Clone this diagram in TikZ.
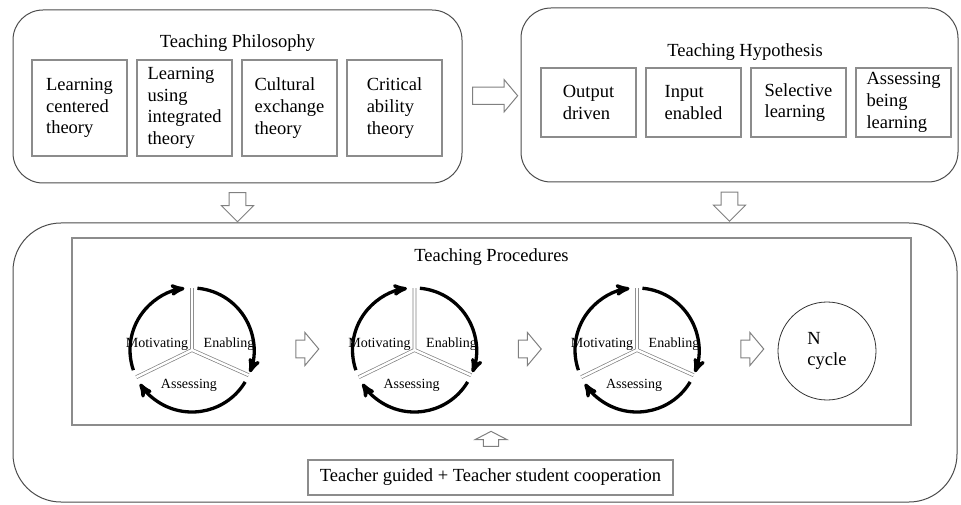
\documentclass[tikz,border=0pt]{standalone}
\usepackage{fontspec}
\setmainfont{Liberation Serif}
\usepackage{tikz}
\usetikzlibrary{calc}
\usetikzlibrary{shapes, arrows, positioning}

\begin{document}
\begin{tikzpicture}[x=1pt,y=1pt,>=stealth',node distance=105pt,
    font=\fontsize{18.5}{21.7}\selectfont,
    bigbox/.style={draw=black!70,line width=1pt,rounded corners=30pt},
    itembox/.style={draw=black!45,line width=1.2pt,minimum width=95pt,align=left,inner sep=2pt},
    blockarrow/.style={single arrow,draw=black!50,line width=1pt,inner xsep=0pt,inner ysep=8pt,
      minimum width=32pt,single arrow tip angle=100},
    spoke/.style={draw=black!50,double=white,double distance=2.4pt,line width=0.7pt},
    cyclearc/.style={->,line width=3.3pt,black},
    cyclelabel/.style={font=\fontsize{14}{16}\selectfont,inner sep=0pt}]
  \useasboundingbox (0,0) rectangle (961,504);

  % teaching philosophy
  \node[bigbox,minimum width=449pt,minimum height=173pt] (phil) at (237.5,407.5) {};
  \node (philtitle) at (237.5,461) {Teaching Philosophy};
  \node[itembox,minimum height=96pt] (p1)               at (79.5,396) {Learning\\centered\\theory};
  \node[itembox,minimum height=96pt] (p2) [right of=p1] {Learning\\using\\integrated\\theory};
  \node[itembox,minimum height=96pt] (p3) [right of=p2] {Cultural\\exchange\\theory};
  \node[itembox,minimum height=96pt] (p4) [right of=p3] {Critical\\ability\\theory};

  % teaching hypothesis
  \node[bigbox,minimum width=437pt,minimum height=174pt] (hyp) at (739.5,409) {};
  \node (hyptitle) at (745,452) {Teaching Hypothesis};
  \node[itembox,minimum height=69pt] (h1)               at (588.5,401.5) {Output\\driven};
  \node[itembox,minimum height=69pt] (h2) [right of=h1] {Input\\enabled};
  \node[itembox,minimum height=69pt] (h3) [right of=h2] {Selective\\learning};
  \node[itembox,minimum height=69pt] (h4) [right of=h3] {Assessing\\being\\learning};

  % teaching procedures
  \node[bigbox,rounded corners=48pt,minimum width=944pt,minimum height=279pt] (proc) at (485,141.5) {};
  \node[draw=black!45,line width=1.2pt,minimum width=839pt,minimum height=187pt] (inner) at (491.5,172.5) {};
  \node (proctitle) at (491.5,247) {Teaching Procedures};
  \node[itembox,minimum width=365pt,minimum height=35pt] (coop) at (490.5,26.5)
    {Teacher guided + Teacher student cooperation};
  \node[draw=black!80,line width=0.8pt,circle,minimum size=98pt,align=left,inner sep=0pt] (ncyc) at (827,153) {N\\cycle};

  % the three cycles
  \foreach \i/\cx in {1/192,2/414.5,3/637}{
    \coordinate (w\i) at (\cx,154);
    \draw[spoke] (w\i) -- ++(90:62) (w\i) -- ++(206:62) (w\i) -- ++(336:62);
    \draw[cyclearc] ([shift={(199:62)}]w\i) arc[start angle=199,end angle=97,radius=62];
    \draw[cyclearc] ([shift={(85:62)}]w\i) arc[start angle=85,end angle=-21,radius=62];
    \draw[cyclearc] ([shift={(-31:62)}]w\i) arc[start angle=-31,end angle=-147,radius=62];
    \node[cyclelabel] (mot\i) at ($(w\i)+(-35,6)$) {Motivating};
    \node[cyclelabel] (ena\i) at ($(w\i)+(37,6)$) {Enabling};
    \node[cyclelabel] (ass\i) at ($(w\i)+(-3,-35)$) {Assessing};
    \node[blockarrow,minimum height=23pt,minimum width=33pt] (ca\i) at ($(w\i)+(111.5,1)$) {};
  }

  % block arrows between the parts
  \node[blockarrow,minimum height=45pt] (a1) at ($(phil.east)!0.5!(hyp.west)$) {};
  \node[blockarrow,rotate=-90,minimum height=29pt,inner ysep=7.5pt,single arrow tip angle=90] (a2)
    at ($(phil.south)!0.5!(phil.south |- proc.north)$) {};
  \node[blockarrow,rotate=-90,minimum height=29pt,inner ysep=7.5pt,single arrow tip angle=90] (a3)
    at ($(hyp.south)!0.5!(hyp.south |- proc.north)+(-10,0)$) {};
  \node[blockarrow,rotate=90,minimum height=15pt,inner ysep=6pt,single arrow tip angle=125] (a4)
    at ($(coop.north)!0.55!(inner.south)$) {};
\end{tikzpicture}
\end{document}
